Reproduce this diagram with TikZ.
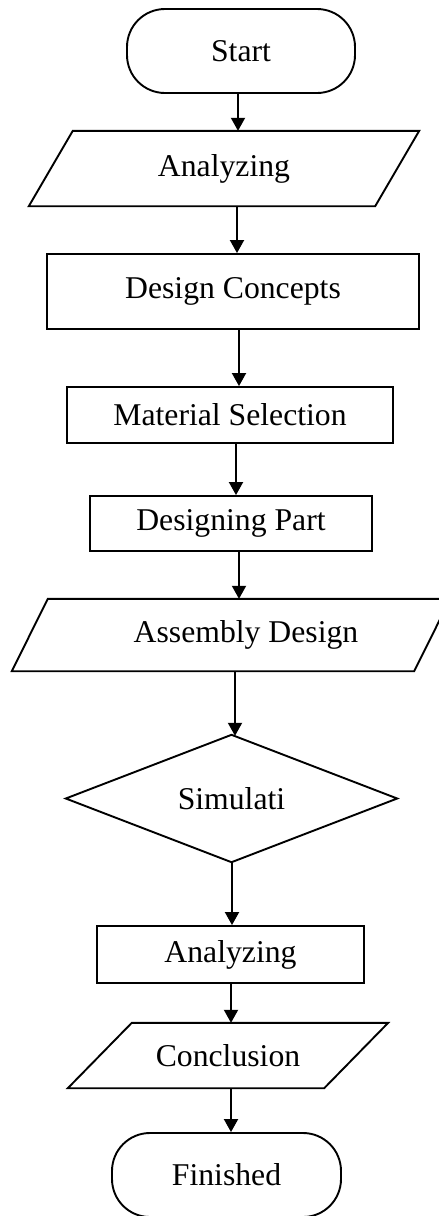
\documentclass[tikz,border=0pt]{standalone}
\usepackage{fontspec}
\setmainfont{Liberation Serif}
\usetikzlibrary{arrows.meta}
\tikzset{
  every node/.style={font=\fontsize{31.7}{38}\selectfont, inner sep=0pt},
  ln/.style={line width=1.9pt, line join=miter},
  boxnode/.style={ln, draw, rectangle},
  termnode/.style={ln, draw, rectangle, rounded corners=38pt},
  hidnode/.style={rectangle},
  arr/.style={line width=1.9pt, -{Triangle[length=13pt,width=14pt]}}
}
\begin{document}
\begin{tikzpicture}[x=1pt,y=-1pt]
\useasboundingbox (0,0) rectangle (439,1216);
\clip (0,0) rectangle (439,1216);
\fill[white] (0,0) rectangle (439,1216);
% nodes
\node[termnode, minimum width=228pt, minimum height=84pt] (start) at (241,51) {Start};
\node[hidnode, minimum width=390pt, minimum height=75pt] (ana1) at (224,168.5) {Analyzing};
\draw[ln] ([xshift=44pt]ana1.north west) -- (ana1.north east) -- ([xshift=-44pt]ana1.south east) -- (ana1.south west) -- cycle;
\node[boxnode, minimum width=372pt, minimum height=75pt] (dc) at (233,291.5) {Design Concepts};
\node[boxnode, minimum width=326pt, minimum height=56pt] (ms) at (230,415) {Material Selection};
\node[boxnode, minimum width=282pt, minimum height=55pt] (dp) at (231,523.5) {Designing Part};
\node[hidnode, minimum width=438pt, minimum height=72pt, label={[xshift=15pt]center:Assembly Design}] (asm) at (231,635) {};
\draw[ln] ([xshift=36pt]asm.north west) -- (asm.north east) -- ([xshift=-36pt]asm.south east) -- (asm.south west) -- cycle;
\node[hidnode, minimum width=331pt, minimum height=127pt] (sim) at (231.5,798.5) {Simulati};
\draw[ln] (sim.north) -- (sim.east) -- (sim.south) -- (sim.west) -- cycle;
\node[boxnode, minimum width=267pt, minimum height=57pt] (ana2) at (230.5,954.5) {Analyzing};
\node[hidnode, minimum width=320pt, minimum height=65pt] (conc) at (228,1055.5) {Conclusion};
\draw[ln] ([xshift=64pt]conc.north west) -- (conc.north east) -- ([xshift=-64pt]conc.south east) -- (conc.south west) -- cycle;
\node[termnode, minimum width=229pt, minimum height=84pt] (fin) at (226.5,1175) {Finished};
% arrow columns
\coordinate (c1) at (238,0);
\coordinate (c2) at (237,0);
\coordinate (c3) at (239,0);
\coordinate (c4) at (236,0);
\coordinate (c5) at (239,0);
\coordinate (c6) at (235,0);
\coordinate (c7) at (232,0);
\coordinate (c8) at (231,0);
\coordinate (c9) at (231,0);
\draw[arr] (start.south -| c1) -- (ana1.north -| c1);
\draw[arr] (ana1.south -| c2) -- (dc.north -| c2);
\draw[arr] (dc.south -| c3) -- (ms.north -| c3);
\draw[arr] (ms.south -| c4) -- (dp.north -| c4);
\draw[arr] (dp.south -| c5) -- (asm.north -| c5);
\draw[arr] (asm.south -| c6) -- ([yshift=-1pt]sim.north -| c6);
\draw[arr] (sim.south -| c7) -- (ana2.north -| c7);
\draw[arr] (ana2.south -| c8) -- (conc.north -| c8);
\draw[arr] (conc.south -| c9) -- (fin.north -| c9);
\end{tikzpicture}
\end{document}
